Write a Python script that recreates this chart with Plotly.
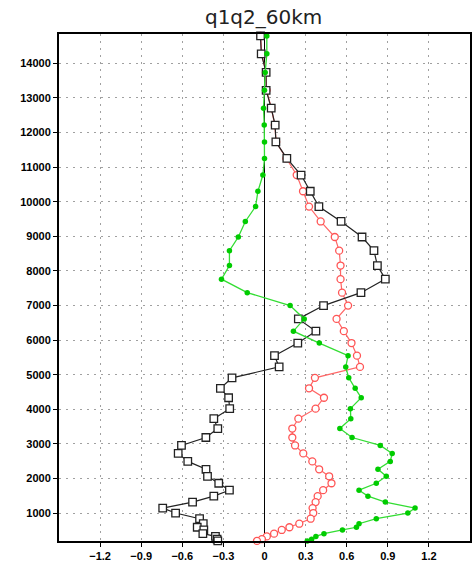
import plotly.graph_objects as go

title = "q1q2_60km"

levels = [14795, 14278, 13740, 13223, 12706, 12217, 11729, 11252, 10772, 10303,
          9861, 9430, 8981, 8587, 8156, 7763, 7372, 6998, 6613, 6259,
          5915, 5550, 5225, 4909, 4607, 4334, 4018, 3730, 3443, 3184,
          2954, 2724, 2494, 2265, 2063, 1862, 1661, 1489, 1316, 1144,
          1000, 836, 692, 589, 511, 405, 325, 244, 195]

black = [-0.029, -0.024, 0.012, 0.012, 0.049, 0.078, 0.083, 0.163, 0.267, 0.334,
         0.397, 0.559, 0.712, 0.799, 0.824, 0.882, 0.704, 0.431, 0.247, 0.375,
         0.243, 0.073, 0.107, -0.237, -0.322, -0.262, -0.254, -0.370, -0.341, -0.428,
         -0.606, -0.630, -0.560, -0.427, -0.416, -0.334, -0.256, -0.370, -0.525, -0.743,
         -0.649, -0.474, -0.447, -0.491, -0.443, -0.450, -0.358, -0.346, -0.341]

red = [-0.029, -0.020, 0.010, 0.015, 0.050, 0.075, 0.085, 0.160, 0.235, 0.281,
       0.325, 0.410, 0.513, 0.545, 0.555, 0.555, 0.566, 0.610, 0.526, 0.579,
       0.635, 0.675, 0.697, 0.368, 0.325, 0.434, 0.373, 0.247, 0.203, 0.203,
       0.223, 0.283, 0.349, 0.399, 0.472, 0.489, 0.428, 0.388, 0.373, 0.351,
       0.356, 0.337, 0.254, 0.182, 0.126, 0.070, 0.017, -0.019, -0.055]

green = [0.017, 0.017, 0.005, 0.0, -0.007, -0.002, 0.0, 0.0, -0.012, -0.048,
         -0.065, -0.140, -0.191, -0.256, -0.256, -0.314, -0.126, 0.187, 0.290, 0.211,
         0.400, 0.610, 0.593, 0.615, 0.662, 0.706, 0.627, 0.630, 0.550, 0.639,
         0.845, 0.932, 0.918, 0.828, 0.889, 0.816, 0.690, 0.755, 0.882, 1.099,
         1.046, 0.816, 0.690, 0.671, 0.569, 0.434, 0.375, 0.344, 0.312]

x_ticks = [-1.2, -0.9, -0.6, -0.3, 0, 0.3, 0.6, 0.9, 1.2]
x_ticktext = ["\u22121.2", "\u22120.9", "\u22120.6", "\u22120.3", "0", "0.3", "0.6", "0.9", "1.2"]
y_ticks = [1000, 2000, 3000, 4000, 5000, 6000, 7000, 8000, 9000, 10000, 11000, 12000, 13000, 14000]
y_ticktext = [str(v) for v in y_ticks]

fig = go.Figure()
fig.add_trace(go.Scatter(
    x=red, y=levels, mode="lines+markers",
    line=dict(color="#ff6666", width=1.2),
    marker=dict(symbol="circle", size=7, color="white", line=dict(color="#ff5555", width=1.3)),
    cliponaxis=False, showlegend=False))
fig.add_trace(go.Scatter(
    x=black, y=levels, mode="lines+markers",
    line=dict(color="#222222", width=1.2),
    marker=dict(symbol="square", size=7.5, color="white", line=dict(color="#222222", width=1.3)),
    cliponaxis=False, showlegend=False))
fig.add_trace(go.Scatter(
    x=green, y=levels, mode="lines+markers",
    line=dict(color="#33dd33", width=1.3),
    marker=dict(symbol="circle", size=5.5, color="#00cc00"),
    cliponaxis=False, showlegend=False))

fig.update_layout(
    width=475, height=565,
    margin=dict(l=59, r=3, t=34, b=21),
    paper_bgcolor="white", plot_bgcolor="white",
    title=dict(text=title, x=0.555, xanchor="center", y=0.97, yanchor="middle",
               font=dict(family="DejaVu Sans", size=20, color="#222222")),
)
fig.update_xaxes(
    range=[-1.5, 1.5], tickvals=x_ticks, ticktext=x_ticktext,
    showgrid=True, gridcolor="#a0a0a0", griddash="2px,5px", gridwidth=1.3,
    zeroline=True, zerolinecolor="black", zerolinewidth=1,
    showline=True, linecolor="black", linewidth=2, mirror=True,
    ticks="outside", ticklen=4, tickcolor="black",
    tickfont=dict(family="Liberation Sans", size=11, color="black", weight="bold"),
)
fig.update_yaxes(
    range=[192, 14850], tickvals=y_ticks, ticktext=y_ticktext,
    showgrid=True, gridcolor="#a0a0a0", griddash="2px,5px", gridwidth=1.3,
    zeroline=False,
    showline=True, linecolor="black", linewidth=2, mirror=True,
    ticks="outside", ticklen=4, tickcolor="black",
    tickfont=dict(family="Liberation Sans", size=11, color="black", weight="bold"),
)

fig.write_html("out.html")
